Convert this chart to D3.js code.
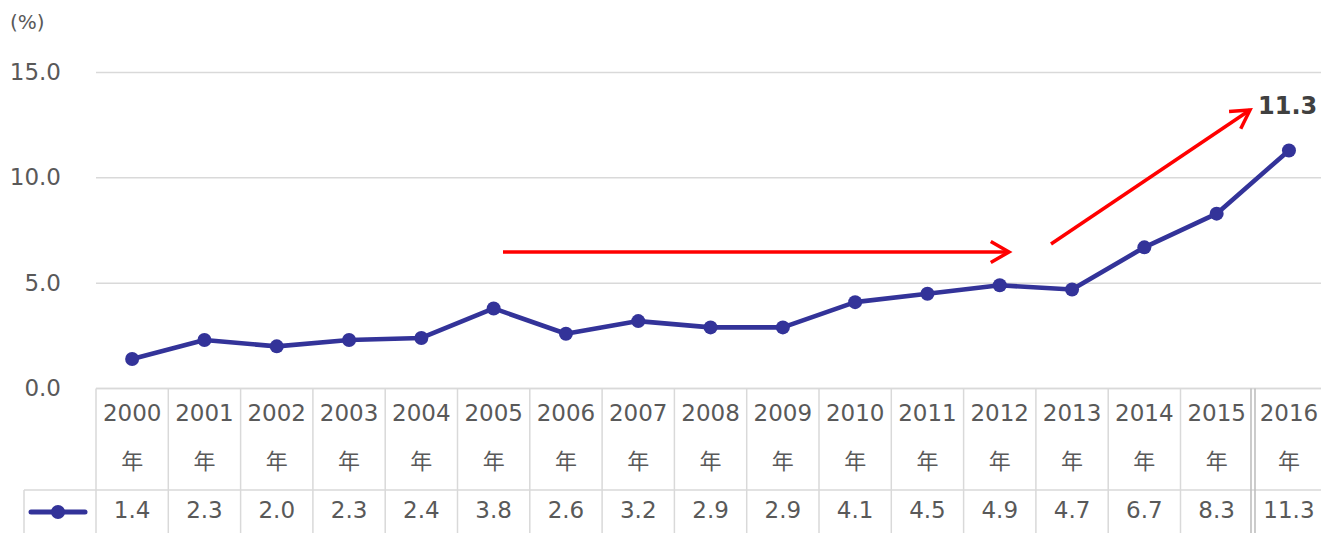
<!DOCTYPE html>
<html><head><meta charset="utf-8">
<script src="https://cdn.jsdelivr.net/npm/d3@7"></script>
<style>
html,body{margin:0;padding:0;background:#fff;}
svg text{font-family:"DejaVu Sans",Verdana,"Noto Sans CJK JP",sans-serif;}
</style></head>
<body><svg id="c" width="1321" height="533"></svg>
<script>
const years = ["2000","2001","2002","2003","2004","2005","2006","2007","2008","2009","2010","2011","2012","2013","2014","2015","2016"];
const values = [1.4,2.3,2.0,2.3,2.4,3.8,2.6,3.2,2.9,2.9,4.1,4.5,4.9,4.7,6.7,8.3,11.3];
const yTicks = [0,5,10,15];
const unitLabel = "(%)";
const yearSuffix = "年";
const highlightLabel = "11.3";

const svg = d3.select("#c");
const W = 1321, H = 533;
const left = 96, bandW = 72.3;
const x = d3.scaleBand().domain(years).range([left, left + bandW*years.length]).padding(0);
const y = d3.scaleLinear().domain([0,15]).range([388.5, 72.5]);
const grey = "#595959", gridC = "#d9d9d9";
const FS = 23;

// gridlines
svg.append("g").selectAll("line").data(yTicks).join("line")
  .attr("x1", left).attr("x2", W).attr("y1", d=>y(d)).attr("y2", d=>y(d))
  .attr("stroke", gridC).attr("stroke-width", 1.5);

// y axis labels
const ax = svg.append("g").attr("transform", `translate(${left},0)`)
  .call(d3.axisLeft(y).tickValues(yTicks).tickFormat(d3.format(".1f")).tickSize(0).tickPadding(35));
ax.select(".domain").remove();
ax.selectAll("text").attr("fill", grey).attr("font-size", FS)
  .attr("font-family", '"DejaVu Sans",Verdana,sans-serif').attr("dy", "0.3em");

svg.append("text").attr("x", 10).attr("y", 29).attr("fill", grey).attr("font-size", 20).text(unitLabel);

// table
const tTop = y(0), tMid = 490, tBot = H;
const tg = svg.append("g");
tg.append("line").attr("x1", left).attr("x2", W).attr("y1", tTop).attr("y2", tTop).attr("stroke", gridC).attr("stroke-width", 1.5);
tg.append("line").attr("x1", 24).attr("x2", W).attr("y1", tMid).attr("y2", tMid).attr("stroke", gridC).attr("stroke-width", 1.5);
tg.append("line").attr("x1", 24).attr("x2", 24).attr("y1", tMid).attr("y2", tBot).attr("stroke", gridC).attr("stroke-width", 1.5);
const bounds = years.map(d=>x(d));
tg.selectAll("line.v").data(bounds.slice(0,-1)).join("line").attr("class","v")
  .attr("x1", d=>d).attr("x2", d=>d).attr("y1", tTop).attr("y2", tBot)
  .attr("stroke", gridC).attr("stroke-width", 1.5);
// double line before last column
const lastB = x(years[years.length-1]);
[lastB-1.8, lastB+2.2].forEach(xx=>{
  tg.append("line").attr("x1", xx).attr("x2", xx).attr("y1", tTop).attr("y2", tBot)
    .attr("stroke", "#bfbfbf").attr("stroke-width", 1.6);
});

const cx = d=>x(d)+x.bandwidth()/2;
tg.selectAll("text.yr").data(years).join("text").attr("class","yr")
  .attr("x", cx).attr("y", 421).attr("text-anchor","middle").attr("fill", grey).attr("font-size", FS).text(d=>d);
tg.selectAll("text.nen").data(years).join("text").attr("class","nen")
  .attr("x", cx).attr("y", 469).attr("text-anchor","middle").attr("fill", grey).attr("font-size", 22)
  .style("font-family",'"Noto Sans CJK JP",sans-serif').text(yearSuffix);
tg.selectAll("text.val").data(values).join("text").attr("class","val")
  .attr("x", (d,i)=>cx(years[i])).attr("y", 518).attr("text-anchor","middle").attr("fill", grey).attr("font-size", FS)
  .text(d=>d3.format(".1f")(d));

// legend
const lineC = "#333399";
tg.append("line").attr("x1", 31).attr("x2", 85).attr("y1", 512).attr("y2", 512)
  .attr("stroke", lineC).attr("stroke-width", 5).attr("stroke-linecap","round");
tg.append("circle").attr("cx", 58).attr("cy", 512).attr("r", 7).attr("fill", lineC);

// red arrows
const red = "#ff0000";
function arrow(x1,y1,x2,y2){
  svg.append("line").attr("x1",x1).attr("y1",y1).attr("x2",x2).attr("y2",y2)
    .attr("stroke",red).attr("stroke-width",3.5);
  const a = Math.atan2(y2-y1,x2-x1), L = 21, s = 0.52;
  const p = [[x2-L*Math.cos(a-s), y2-L*Math.sin(a-s)],[x2,y2],[x2-L*Math.cos(a+s), y2-L*Math.sin(a+s)]];
  svg.append("path").attr("d", d3.line()(p)).attr("fill","none").attr("stroke",red)
    .attr("stroke-width",3.5).attr("stroke-linejoin","miter");
}
arrow(503, 252, 1009, 252);
arrow(1051, 244, 1250, 110);

svg.append("text").attr("x", 1258).attr("y", 114).attr("fill", "#404040").attr("font-size", 24)
  .attr("font-weight","bold").text(highlightLabel);

// data line
const line = d3.line().x((d,i)=>cx(years[i])).y(d=>y(d));
svg.append("path").datum(values).attr("d", line).attr("fill","none").attr("stroke", lineC)
  .attr("stroke-width", 4.6).attr("stroke-linejoin","round");
svg.append("g").selectAll("circle").data(values).join("circle")
  .attr("cx", (d,i)=>cx(years[i])).attr("cy", d=>y(d)).attr("r", 7).attr("fill", lineC);
</script></body></html>
